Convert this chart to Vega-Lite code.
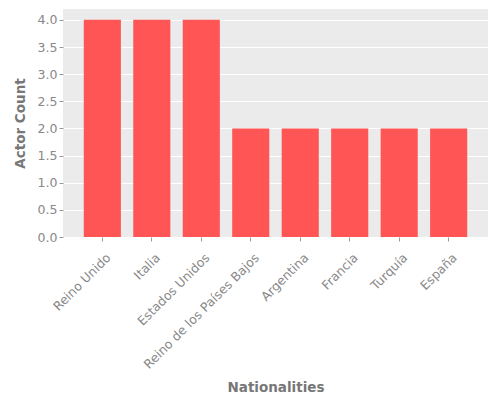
{
  "$schema": "https://vega.github.io/schema/vega-lite/v6.json",
  "width": 425,
  "height": 228,
  "autosize": {"type": "none"},
  "padding": {"left": 63, "top": 9, "right": 12, "bottom": 163},
  "background": "white",
  "config": {
    "view": {"fill": "#EBEBEB", "stroke": null},
    "font": "DejaVu Sans",
    "axis": {
      "domain": false,
      "labelFont": "DejaVu Sans",
      "labelFontSize": 12.5,
      "labelColor": "#888888",
      "tickColor": "#999999",
      "tickSize": 4,
      "titleFont": "DejaVu Sans",
      "titleFontSize": 13.5,
      "titleFontWeight": "bold",
      "titleColor": "#777777",
      "gridColor": "white",
      "gridWidth": 1
    }
  },
  "data": {
    "values": [
      {"nationality": "Reino Unido", "count": 4},
      {"nationality": "Italia", "count": 4},
      {"nationality": "Estados Unidos", "count": 4},
      {"nationality": "Reino de los Países Bajos", "count": 2},
      {"nationality": "Argentina", "count": 2},
      {"nationality": "Francia", "count": 2},
      {"nationality": "Turquía", "count": 2},
      {"nationality": "España", "count": 2}
    ]
  },
  "mark": {"type": "bar", "color": "#FF5555"},
  "encoding": {
    "x": {
      "field": "nationality",
      "type": "nominal",
      "sort": null,
      "title": "Nationalities",
      "scale": {"paddingInner": 0.25, "paddingOuter": 0.42},
      "axis": {"labelAngle": -45, "labelAlign": "right", "labelBaseline": "top", "labelPadding": 10, "labelOffset": 2, "grid": false, "titlePadding": 10}
    },
    "y": {
      "field": "count",
      "type": "quantitative",
      "title": "Actor Count",
      "scale": {"domain": [0, 4.2], "nice": false},
      "axis": {"values": [0, 0.5, 1, 1.5, 2, 2.5, 3, 3.5, 4], "format": ".1f", "grid": true, "titlePadding": 10}
    }
  }
}
